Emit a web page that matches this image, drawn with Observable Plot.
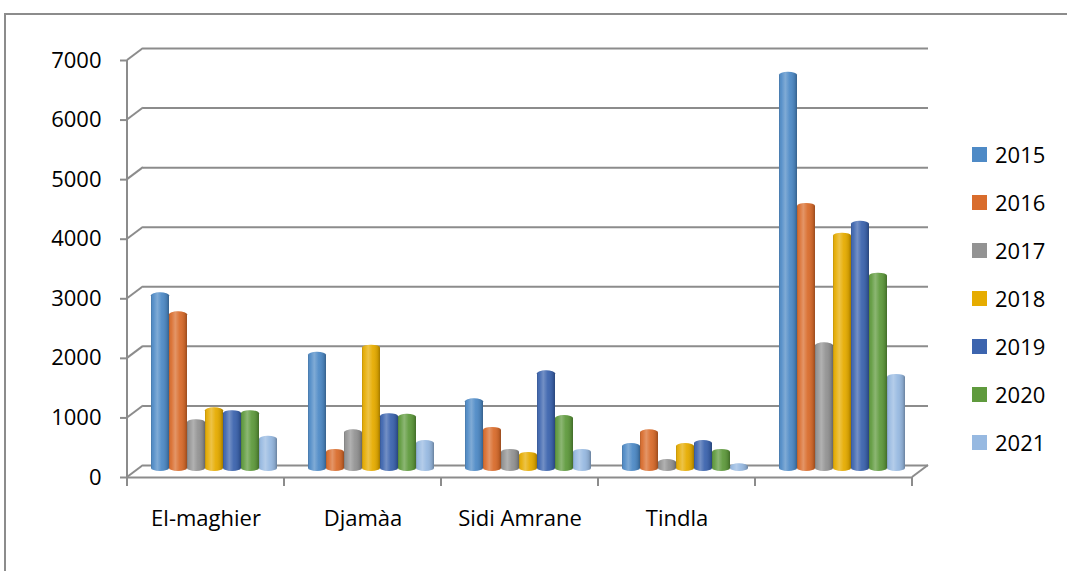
<!DOCTYPE html>
<html>
<head>
<meta charset="utf-8">
<script src="https://cdn.jsdelivr.net/npm/d3@7"></script>
<script src="https://cdn.jsdelivr.net/npm/@observablehq/plot@0.6"></script>
<style>
  html, body { margin: 0; padding: 0; background: #fff; }
  body { width: 1067px; height: 571px; position: relative; overflow: hidden; font-family: "Open Sans", sans-serif; }
  #frame { position: absolute; left: 4px; top: 13px; width: 1200px; height: 700px;
           border-left: 2px solid #8c8c8c; border-top: 2px solid #8c8c8c; }
  #chart { position: absolute; left: 0; top: 0; }
  #legend { position: absolute; left: 972px; top: 130px; }
  .row { height: 48px; display: flex; align-items: center; font-size: 22px; color: #000; }
  .sw { width: 15px; height: 15px; margin-right: 8px; }
</style>
</head>
<body>
<div id="frame"></div>
<div id="chart"></div>
<div id="legend"></div>
<script>
// Communes (the last group carries no label on the axis)
const categories = ["El-maghier", "Djamàa", "Sidi Amrane", "Tindla", ""];
const years = ["2015", "2016", "2017", "2018", "2019", "2020", "2021"];
const colors = ["#4e8ac6", "#d96c2c", "#939393", "#e6ac00", "#3c64ae", "#5f9a3d", "#97b9e1"];

// One array per year, in the order of the categories
const v2015 = [3000, 2000, 1220, 470, 6700];
const v2016 = [2680, 370, 740, 700, 4500];
const v2017 = [870, 700, 370, 200, 2160];
const v2018 = [1070, 2120, 320, 470, 4000];
const v2019 = [1020, 970, 1690, 520, 4200];
const v2020 = [1020, 960, 940, 370, 3330];
const v2021 = [590, 520, 370, 130, 1630];

const yTicks = [0, 1000, 2000, 3000, 4000, 5000, 6000, 7000];

const series = [v2015, v2016, v2017, v2018, v2019, v2020, v2021];
const rows = [];
categories.forEach((c, i) => series.forEach((s, j) => rows.push({category: c, year: years[j], value: s[i]})));

// half of the 3D depth: the bars stand midway between the front axes and the back wall
const DX = 8, DY = 6;
const gray = "#8c8c8c";

const chart = Plot.plot({
  width: 1067,
  height: 571,
  marginLeft: 135,
  marginRight: 147,
  marginTop: 54,
  marginBottom: 100,
  style: {fontFamily: "Open Sans", fontSize: "22px", color: "#000", background: "transparent"},
  fx: {domain: categories, padding: 0, label: null},
  x: {domain: years, paddingInner: 0, paddingOuter: 0.76, axis: null},
  y: {domain: [0, 7000], axis: null, label: null},
  color: {domain: years, range: colors},
  marks: [
    // back wall gridlines
    Plot.ruleY(yTicks, {dx: DX, dy: -DY, stroke: gray, strokeWidth: 2}),
    // front floor edge
    Plot.ruleY([0], {dx: -DX, dy: DY, stroke: gray, strokeWidth: 2}),
    Plot.axisY(yTicks, {dx: -DX, dy: DY, tickSize: 7, tickPadding: 19, stroke: gray, strokeWidth: 2, fill: "#000", label: null, tickFormat: d => String(d)}),
    Plot.axisFx({anchor: "bottom", tickSize: 0, tickPadding: 39, dx: -DX, label: null, fill: "#000"}),
    // cylinders: flat colour, then a shading overlay
    Plot.barY(rows, {fx: "category", x: "year", y: "value", fill: "year", rx: 9, ry: 3}),
    Plot.barY(rows, {fx: "category", x: "year", y: "value", fill: "url(#cyl)", rx: 9, ry: 3})
  ]
});
document.getElementById("chart").append(chart);

const svg = d3.select(chart.tagName.toLowerCase() === "svg" ? chart : chart.querySelector("svg"));

// horizontal shading that makes each bar read as a cylinder
const grad = svg.insert("defs", ":first-child").append("linearGradient").attr("id", "cyl");
[[0, "#000", 0.18], [0.12, "#fff", 0.05], [0.35, "#fff", 0.28], [0.6, "#fff", 0.05], [0.88, "#000", 0.12], [1, "#000", 0.3]]
  .forEach(([o, c, a]) => grad.append("stop").attr("offset", o).attr("stop-color", c).attr("stop-opacity", a));

// 3D axis details drawn from the chart's own scales
const y = chart.scale("y");
const fx = chart.scale("fx");
const left = fx.apply(categories[0]);
const right = fx.apply(categories[categories.length - 1]) + fx.bandwidth;
const g = svg.append("g").attr("stroke", gray).attr("stroke-width", 2).attr("fill", "none");
// left front vertical axis
g.append("line").attr("x1", left - DX).attr("x2", left - DX)
  .attr("y1", y.apply(0) + DY).attr("y2", y.apply(7000) + DY);
// side-wall diagonals at each gridline
yTicks.forEach(t => g.append("line")
  .attr("x1", left - DX).attr("y1", y.apply(t) + DY)
  .attr("x2", left + DX).attr("y2", y.apply(t) - DY));
// floor diagonal on the right
g.append("line").attr("x1", right - DX).attr("y1", y.apply(0) + DY)
  .attr("x2", right + DX).attr("y2", y.apply(0) - DY);
// category separators under the floor
for (let i = 0; i <= categories.length; i++) {
  const xx = left + i * fx.step - DX;
  g.append("line").attr("x1", xx).attr("x2", xx)
    .attr("y1", y.apply(0) + DY).attr("y2", y.apply(0) + DY + 9);
}

// legend
const legend = d3.select("#legend");
years.forEach((yr, i) => {
  const r = legend.append("div").attr("class", "row");
  r.append("div").attr("class", "sw").style("background", colors[i]);
  r.append("span").text(yr);
});
</script>
</body>
</html>
